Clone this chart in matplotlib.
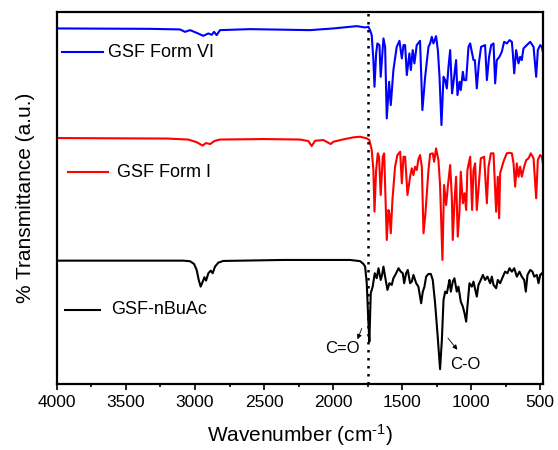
"""
FTIR 谱图 - GSF 三种晶型对比
"""
import matplotlib
matplotlib.use('Agg')
from matplotlib import pyplot as plt
from matplotlib.ticker import MultipleLocator

plt.rcParams['font.family'] = ['Liberation Sans', 'DejaVu Sans']
plt.rcParams['mathtext.fontset'] = 'custom'
plt.rcParams['mathtext.rm'] = 'Liberation Sans'
plt.rcParams['mathtext.it'] = 'Liberation Sans:italic'

# GSF Form VI (蓝)
formViWn = [4000, 3326, 3109, 3072, 3036, 2988, 2940, 2903, 2879, 2862, 2843, 2819,
            2601, 2167, 1998, 1828, 1768, 1744, 1732, 1720, 1708, 1700, 1688, 1679,
            1664, 1655, 1635, 1623, 1611, 1594, 1582, 1563, 1539, 1519, 1502, 1490,
            1478, 1466, 1447, 1437, 1423, 1411, 1394, 1370, 1353, 1333, 1309, 1297,
            1285, 1273, 1254, 1241, 1229, 1215, 1200, 1188, 1176, 1164, 1152, 1138,
            1123, 1109, 1099, 1084, 1075, 1060, 1051, 1036, 1019, 1007, 983, 973,
            959, 944, 928, 899, 886, 870, 855, 838, 826, 814, 795, 778, 761, 741,
            722, 705, 698, 688, 674, 657, 645, 633, 621, 597, 572, 548, 529, 517,
            500, 488, 476]
formViT = [355.7, 355.3, 354.7, 352.3, 354, 351.3, 348.3, 350.7, 349.3, 352.3, 349, 354,
           355, 354, 355.7, 358, 356.7, 357.3, 354, 349, 324, 297.3, 330.7, 340.7,
           339, 307.3, 345.7, 337.3, 265.7, 302.3, 279, 314, 337.3, 343.3, 325.7, 339,
           339, 309, 330.7, 314, 334, 320.7, 339, 343.3, 274, 307.3, 337.3, 340.7,
           347.3, 340.7, 348, 334, 307.3, 259, 307.3, 304, 295.7, 317.3, 334, 290.7,
           307.3, 324, 289, 302.3, 294, 312.3, 304, 304, 337.3, 340.7, 324, 324,
           295.7, 320.7, 337.3, 339, 304, 327.3, 339, 340.7, 300.7, 324, 327.3, 332.3, 342.3, 340.7,
           344, 342.3, 330.7, 310.7, 334, 320.7, 327.3, 324, 335.7, 339, 342.3, 337.3, 307.3, 334,
           339, 337.3, 329]

# GSF Form I (红)
formIWn = [4000, 3200, 3050, 2990, 2945, 2920, 2890, 2860, 2820, 2500, 2239, 2179,
           2155, 2130, 2070, 2034, 2017, 1998, 1925, 1853, 1804, 1756, 1737, 1720,
           1708, 1700, 1688, 1676, 1667, 1655, 1640, 1630, 1611, 1599, 1592, 1582,
           1570, 1551, 1534, 1514, 1502, 1490, 1478, 1461, 1442, 1430, 1418, 1406,
           1394, 1382, 1370, 1357, 1345, 1331, 1309, 1297, 1278, 1268, 1254, 1237,
           1225, 1208, 1196, 1181, 1169, 1152, 1140, 1133, 1121, 1109, 1097, 1084,
           1075, 1060, 1048, 1036, 1027, 1007, 993, 983, 971, 959, 947, 930, 906,
           886, 874, 857, 838, 819, 807, 797, 790, 766, 742, 722, 705, 693, 681,
           669, 657, 645, 633, 616, 601, 584, 568, 548, 529, 517, 500, 488, 476]
formIT = [246, 245.5, 244.5, 242, 238.5, 241, 240, 243, 244.5, 245, 244.5, 243,
          238, 243.3, 244, 241.3, 240, 242.3, 244.7, 246.7, 247.3, 245.7, 244, 234,
          214, 172.3, 214, 230.7, 227.3, 189, 227.3, 230.7, 144, 174, 170.7, 150.7,
          184, 217.3, 229, 232.3, 200.7, 227.3, 227.3, 189, 207.3, 215.7, 209, 217.3,
          214, 224.7, 229, 217.3, 150.7, 170.7, 214, 230, 230.7, 222.3, 235.7, 224,
          199, 124, 199, 179, 197.3, 219, 187.3, 144, 180.7, 207.3, 147.3, 174,
          212.3, 180.7, 190.7, 174, 214, 227.3, 174, 214, 220.7, 174, 194, 225.7, 227.3,
          180.7, 217.3, 230.7, 230.7, 172.3, 207.3, 165.7, 210.7, 222.3, 230.7, 231.3, 230.7, 220.7, 197.3,
          220.7, 207.3, 217.3, 207.3, 217.3, 224, 225.7, 230.7, 225.7, 185.7, 224, 229, 227.3, 217.3]

# GSF-nBuAc (黑)
nBuAcWn = [4000, 3085, 3036, 3007, 2988, 2973, 2959, 2944, 2932, 2920, 2903, 2886,
           2872, 2855, 2831, 2795, 2360, 1877, 1804, 1780, 1768, 1756, 1746, 1737,
           1727, 1713, 1698, 1684, 1671, 1655, 1645, 1635, 1623, 1606, 1592, 1575,
           1563, 1543, 1526, 1510, 1495, 1485, 1471, 1459, 1442, 1430, 1418, 1398,
           1382, 1362, 1350, 1338, 1326, 1309, 1292, 1278, 1261, 1244, 1225, 1212,
           1200, 1188, 1176, 1164, 1157, 1147, 1133, 1121, 1104, 1092, 1075, 1060,
           1048, 1036, 1027, 1012, 995, 983, 959, 947, 930, 915, 899, 882, 862,
           850, 838, 819, 807, 790, 770, 754, 737, 722, 705, 688, 669, 650, 633,
           616, 604, 592, 572, 556, 543, 524, 512, 500, 488, 476]
nBuAcT = [123.3, 123.3, 122.7, 120, 114, 104, 97.3, 102.3, 106.7, 103.3, 110.7, 113.3,
          110.7, 117.3, 121.3, 123, 124, 124, 122.8, 120, 117.3, 100.7, 67.3, 42.3,
          90.7, 97.3, 110.7, 105.7, 115.7, 104, 109, 117.3, 107.3, 94, 100.7, 99,
          105.7, 110.7, 115.7, 112.3, 110.7, 100.7, 110.7, 114, 100.7, 102.3, 109, 100.7,
          97.3, 80.7, 92.3, 97.3, 107.3, 110, 110, 104, 80.7, 50.7, 14.7, 44,
          84, 92.3, 90.7, 99, 104, 92.3, 102.3, 105.7, 92.3, 97.3, 82.3, 77.3,
          70.7, 62.3, 77.3, 100.7, 97.3, 102.3, 87.3, 99, 104, 109, 104, 107.3, 100.7,
          107.3, 99, 95.7, 104, 100.7, 107.3, 112.3, 110.7, 115.7, 112.3, 115.7, 107.3, 112.3, 107.3,
          104, 92.3, 109, 114, 112.3, 107.3, 109, 100.7, 109, 110.7, 107.3]

seriesNames = ['GSF Form VI', 'GSF Form I', 'GSF-nBuAc']
seriesColors = ['#0000ff', '#ff0000', '#000000']
carbonylWn = 1745  # C=O 参考线

fig = plt.figure(figsize=(5.58, 4.5), dpi=100)
ax = fig.add_axes([0.102, 0.147, 0.871, 0.826])

allData = [(formViWn, formViT), (formIWn, formIT), (nBuAcWn, nBuAcT)]
for (wn, tr), color in zip(allData, seriesColors):
    ax.plot(wn, tr, color=color, lw=1.5)

# 图例 (手动放置在曲线旁)
legendPos = [(3966, 3669, 332, 3628), (3920, 3630, 212, 3565), (3942, 3688, 74, 3604)]
for (x0, x1, y, xt), name, color in zip(legendPos, seriesNames, seriesColors):
    ax.plot([x0, x1], [y, y], color=color, lw=1.5)
    ax.text(xt, y, name, fontsize=13, va='center', ha='left')

ax.axvline(carbonylWn, color='black', lw=1.8, ls=(0, (1, 2.2)))

# 标注
ax.annotate('', xy=(1830, 42), xytext=(1785, 58),
            arrowprops=dict(arrowstyle='-|>', color='black', lw=0.6, mutation_scale=7))
ax.text(1931, 35, 'C=O', fontsize=12, ha='center', va='center')
ax.annotate('', xy=(1087, 32), xytext=(1181, 48),
            arrowprops=dict(arrowstyle='-|>', color='black', lw=0.6, mutation_scale=7))
ax.text(1043, 19, 'C-O', fontsize=12, ha='center', va='center')

ax.set_xlim(4000, 480)
ax.set_ylim(0, 372)
ax.xaxis.set_major_locator(MultipleLocator(500))
ax.xaxis.set_minor_locator(MultipleLocator(250))
ax.set_yticks([])
ax.tick_params(axis='x', which='major', direction='out', length=4.5, width=1.2, labelsize=12.5)
ax.tick_params(axis='x', which='minor', direction='out', length=2.5, width=1.2)
for sp in ax.spines.values():
    sp.set_linewidth(1.6)

ax.set_xlabel('Wavenumber (cm$^{\\text{-}1}$)', fontsize=15, labelpad=9)
ax.set_ylabel('% Transmittance (a.u.)', fontsize=15, labelpad=16)

fig.savefig('out.png', dpi=100)
